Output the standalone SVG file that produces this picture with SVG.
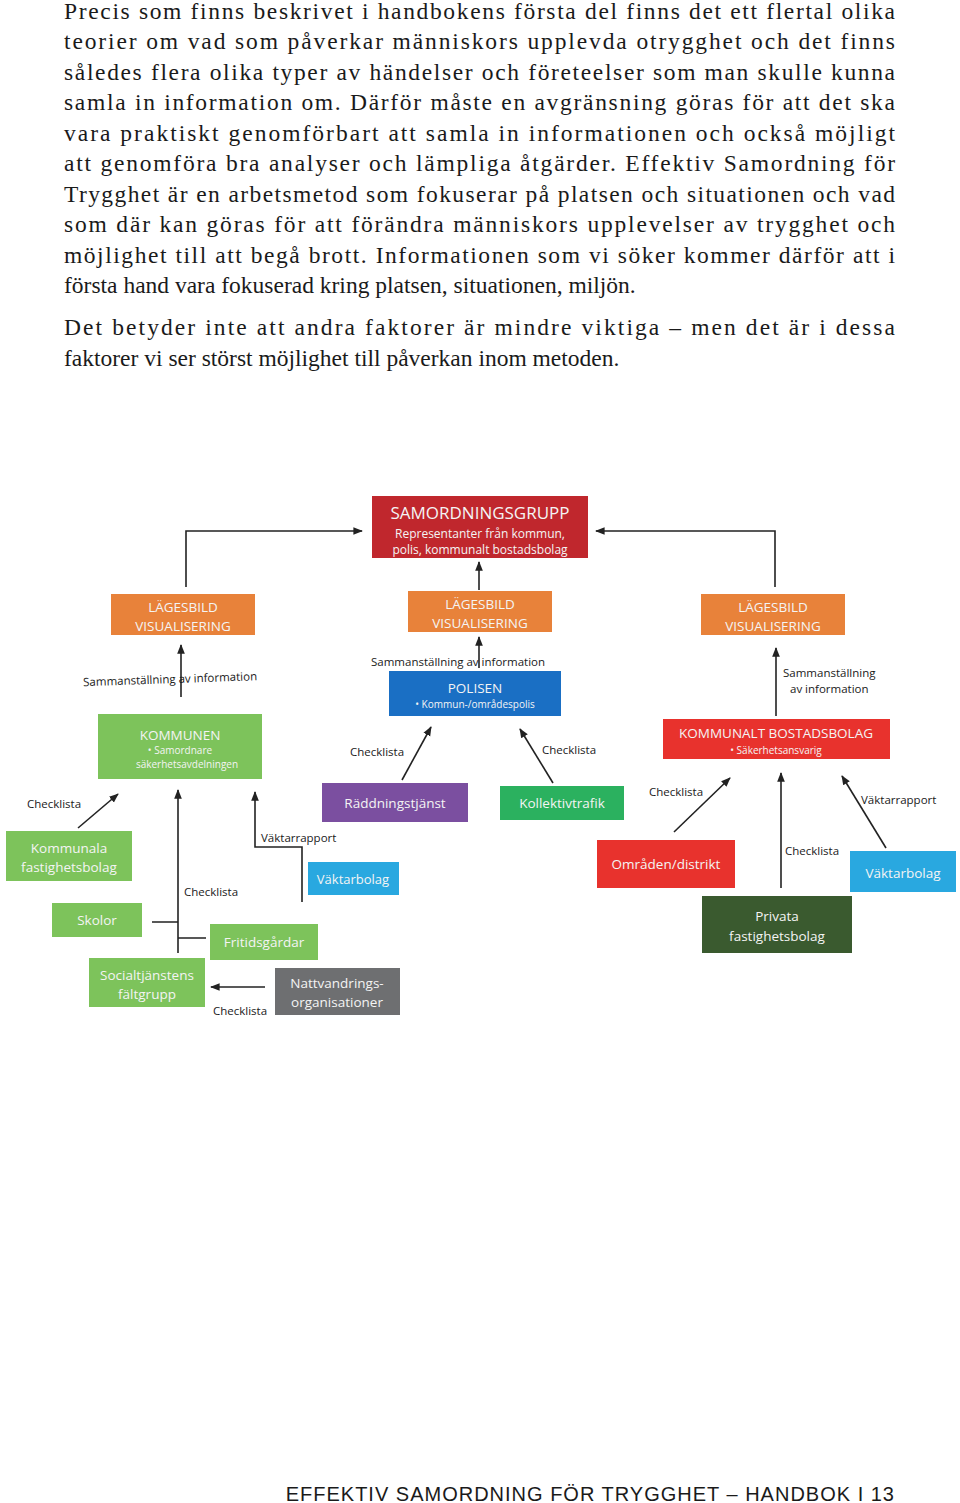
<svg xmlns="http://www.w3.org/2000/svg" width="960" height="1503" viewBox="0 0 960 1503">
<style>
.p{font-family:"Liberation Serif",serif;font-size:23.5px;fill:#1a1a1a}
.t{font-family:"Open Sans","Liberation Sans",sans-serif;fill:#f4f4f4;text-anchor:middle}
.l{font-family:"Open Sans","Liberation Sans",sans-serif;font-size:11.5px;fill:#1a1a1a}
.c{stroke:#222;stroke-width:1.6;fill:none}
.ca{stroke:#222;stroke-width:1.6;fill:none;marker-end:url(#a)}
</style>
<defs><marker id="a" viewBox="0 0 10 10" refX="9" refY="5" markerWidth="6" markerHeight="6" orient="auto"><path d="M0,1L10,5L0,9z" fill="#222"/></marker></defs>
<rect width="960" height="1503" fill="#fff"/>
<g id="body">
<text class="p" x="64" y="19" textLength="831" lengthAdjust="spacing">Precis som finns beskrivet i handbokens första del finns det ett flertal olika</text>
<text class="p" x="64" y="49" textLength="831" lengthAdjust="spacing">teorier om vad som påverkar människors upplevda otrygghet och det finns</text>
<text class="p" x="64" y="80" textLength="831" lengthAdjust="spacing">således flera olika typer av händelser och företeelser som man skulle kunna</text>
<text class="p" x="64" y="110" textLength="831" lengthAdjust="spacing">samla in information om. Därför måste en avgränsning göras för att det ska</text>
<text class="p" x="64" y="141" textLength="831" lengthAdjust="spacing">vara praktiskt genomförbart att samla in informationen och också möjligt</text>
<text class="p" x="64" y="171" textLength="831" lengthAdjust="spacing">att genomföra bra analyser och lämpliga åtgärder. Effektiv Samordning för</text>
<text class="p" x="64" y="202" textLength="831" lengthAdjust="spacing">Trygghet är en arbetsmetod som fokuserar på platsen och situationen och vad</text>
<text class="p" x="64" y="232" textLength="831" lengthAdjust="spacing">som där kan göras för att förändra människors upplevelser av trygghet och</text>
<text class="p" x="64" y="263" textLength="831" lengthAdjust="spacing">möjlighet till att begå brott. Informationen som vi söker kommer därför att i</text>
<text class="p" x="64" y="293">första hand vara fokuserad kring platsen, situationen, miljön.</text>
<text class="p" x="64" y="335" textLength="831" lengthAdjust="spacing">Det betyder inte att andra faktorer är mindre viktiga – men det är i dessa</text>
<text class="p" x="64" y="366">faktorer vi ser störst möjlighet till påverkan inom metoden.</text>
</g>
<g id="connectors">
<path class="ca" d="M186,587V531H362"/>
<path class="ca" d="M775,587V531H596"/>
<path class="ca" d="M479,590V562"/>
<path class="ca" d="M181,697V645"/>
<path class="ca" d="M479,668V637"/>
<path class="ca" d="M776,716V648"/>
<path class="ca" d="M402,780L431,727"/>
<path class="ca" d="M553,783L520,729"/>
<path class="ca" d="M78,828L118,794"/>
<path class="ca" d="M178,953V790"/>
<path class="c" d="M152,922H178M178,938H206"/>
<path class="ca" d="M302,902V847H255V792"/>
<path class="ca" d="M265,987H211"/>
<path class="ca" d="M674,832L730,778"/>
<path class="ca" d="M781,888V773"/>
<path class="ca" d="M886,848L842,776"/>
</g>
<g id="labels">
<text class="l" x="83" y="683" transform="rotate(-2 176 676)">Sammanställning av information</text>
<text class="l" x="371" y="666">Sammanställning av information</text>
<text class="l" x="783" y="677">Sammanställning</text>
<text class="l" x="790" y="693">av information</text>
<text class="l" x="350" y="756">Checklista</text>
<text class="l" x="542" y="754">Checklista</text>
<text class="l" x="27" y="808">Checklista</text>
<text class="l" x="184" y="896">Checklista</text>
<text class="l" x="261" y="842">Väktarrapport</text>
<text class="l" x="213" y="1015">Checklista</text>
<text class="l" x="649" y="796">Checklista</text>
<text class="l" x="785" y="855">Checklista</text>
<text class="l" x="861" y="804">Väktarrapport</text>
</g>
<g id="samordningsgrupp"><rect x="372" y="496" width="216" height="62" fill="#c0272d"/><text class="t" x="480" y="519" font-size="17">SAMORDNINGSGRUPP</text><text class="t" x="480" y="538" font-size="12">Representanter från kommun,</text><text class="t" x="480" y="554" font-size="12">polis, kommunalt bostadsbolag</text></g>
<g id="lagesbild1"><rect x="111" y="594" width="144" height="41" fill="#e8823a"/><text class="t" x="183" y="612" font-size="13.5">LÄGESBILD</text><text class="t" x="183" y="631" font-size="13.5">VISUALISERING</text></g>
<g id="lagesbild2"><rect x="408" y="591" width="144" height="41" fill="#e8823a"/><text class="t" x="480" y="609" font-size="13.5">LÄGESBILD</text><text class="t" x="480" y="628" font-size="13.5">VISUALISERING</text></g>
<g id="lagesbild3"><rect x="701" y="594" width="144" height="41" fill="#e8823a"/><text class="t" x="773" y="612" font-size="13.5">LÄGESBILD</text><text class="t" x="773" y="631" font-size="13.5">VISUALISERING</text></g>
<g id="polisen"><rect x="389" y="671" width="172" height="45" fill="#1a6fc4"/><text class="t" x="475" y="693" font-size="13.5">POLISEN</text><text class="t" x="475" y="708" font-size="10">•  Kommun-/områdespolis</text></g>
<g id="kommunen"><rect x="98" y="714" width="164" height="65" fill="#7dc35b"/><text class="t" x="180" y="740" font-size="13.5">KOMMUNEN</text><text class="t" x="180" y="754" font-size="10">•  Samordnare</text><text class="t" x="187" y="768" font-size="10">säkerhetsavdelningen</text></g>
<g id="bostadsbolag"><rect x="663" y="719" width="227" height="40" fill="#e8322d"/><text class="t" x="776" y="738" font-size="13.5">KOMMUNALT BOSTADSBOLAG</text><text class="t" x="776" y="754" font-size="10">•   Säkerhetsansvarig</text></g>
<g id="raddning"><rect x="322" y="783" width="146" height="39" fill="#7b4fa0"/><text class="t" x="395" y="808" font-size="13.5">Räddningstjänst</text></g>
<g id="kollektivtrafik"><rect x="500" y="786" width="124" height="34" fill="#2bb15f"/><text class="t" x="562" y="808" font-size="13.5">Kollektivtrafik</text></g>
<g id="kommunalafastighet"><rect x="6" y="831" width="126" height="50" fill="#7dc35b"/><text class="t" x="69" y="853" font-size="13.5">Kommunala</text><text class="t" x="69" y="872" font-size="13.5">fastighetsbolag</text></g>
<g id="skolor"><rect x="52" y="903" width="90" height="34" fill="#7dc35b"/><text class="t" x="97" y="925" font-size="13.5">Skolor</text></g>
<g id="fritidsgardar"><rect x="210" y="924" width="108" height="36" fill="#7dc35b"/><text class="t" x="264" y="947" font-size="13.5">Fritidsgårdar</text></g>
<g id="socialtjanst"><rect x="89" y="958" width="116" height="49" fill="#7dc35b"/><text class="t" x="147" y="980" font-size="13.5">Socialtjänstens</text><text class="t" x="147" y="999" font-size="13.5">fältgrupp</text></g>
<g id="nattvandring"><rect x="275" y="968" width="125" height="47" fill="#6e6f71"/><text class="t" x="337" y="988" font-size="13.5">Nattvandrings-</text><text class="t" x="337" y="1007" font-size="13.5">organisationer</text></g>
<g id="vaktarbolag1"><rect x="308" y="862" width="91" height="33" fill="#29a8e0"/><text class="t" x="353" y="884" font-size="13">Väktarbolag</text></g>
<g id="omraden"><rect x="597" y="840" width="138" height="48" fill="#e8322d"/><text class="t" x="666" y="869" font-size="13.5">Områden/distrikt</text></g>
<g id="privata"><rect x="702" y="896" width="150" height="57" fill="#3a5a2f"/><text class="t" x="777" y="921" font-size="13.5">Privata</text><text class="t" x="777" y="941" font-size="13.5">fastighetsbolag</text></g>
<g id="vaktarbolag2"><rect x="850" y="851" width="106" height="41" fill="#29a8e0"/><text class="t" x="903" y="878" font-size="13.5">Väktarbolag</text></g>
<text x="895" y="1501" text-anchor="end" font-family="Liberation Sans,sans-serif" font-size="20" letter-spacing="1" fill="#1a1a1a">EFFEKTIV SAMORDNING FÖR TRYGGHET – HANDBOK  I  13</text>
</svg>
